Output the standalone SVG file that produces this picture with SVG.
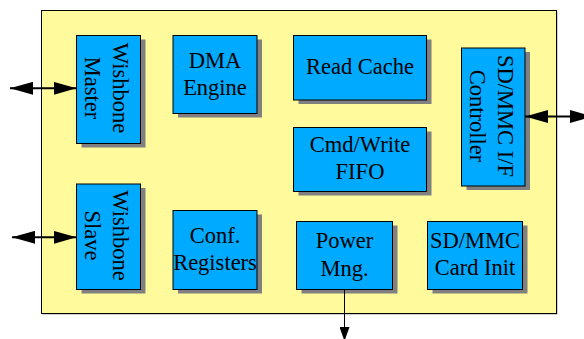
<svg xmlns="http://www.w3.org/2000/svg" width="584" height="339" viewBox="0 0 584 339">
<style>
.outer{fill:#fffb9c;stroke:#000;stroke-width:1}
.box{fill:#00aaff;stroke:#000;stroke-width:1}
.sh{fill:#808080}
.t{font-family:"Liberation Serif","Times New Roman",serif;font-size:22.5px;fill:#000;text-anchor:middle}
.big{stroke:#000;stroke-width:2;fill:none}
.thin{stroke:#000;stroke-width:1;fill:none}
</style>
<defs>
<marker id="ah" viewBox="0 0 23 13" refX="23" refY="6.5" markerWidth="23" markerHeight="13" markerUnits="userSpaceOnUse" orient="auto-start-reverse">
<path d="M0,0 L23,6.5 L0,13 z" fill="#000"/>
</marker>
<marker id="ahs" viewBox="0 0 14 10" refX="14" refY="5" markerWidth="14" markerHeight="10" markerUnits="userSpaceOnUse" orient="auto">
<path d="M0,0 L14,5 L0,10 z" fill="#000"/>
</marker>
</defs>
<rect x="42.5" y="11.5" width="515" height="303" fill="#a0a0a0"/>
<rect class="outer" x="41.5" y="10.5" width="515" height="303"/>
<g id="wishbone-master">
<rect class="sh" x="81.5" y="39.5" width="64" height="108"/>
<rect class="box" x="76.5" y="35.5" width="64" height="108"/>
<text class="t" transform="translate(108.5,88) rotate(90)"><tspan x="0" y="-4.8">Wishbone</tspan><tspan x="0" y="23.5">Master</tspan></text>
</g>
<g id="dma-engine">
<rect class="sh" x="178" y="39.5" width="84" height="78"/>
<rect class="box" x="173" y="35.5" width="84" height="78"/>
<text class="t"><tspan x="215" y="68.3">DMA</tspan><tspan x="215" y="95">Engine</tspan></text>
</g>
<g id="read-cache">
<rect class="sh" x="298.5" y="39.5" width="133" height="64.5"/>
<rect class="box" x="293.5" y="35.5" width="133" height="64.5"/>
<text class="t" x="360" y="74.3">Read Cache</text>
</g>
<g id="cmd-write-fifo">
<rect class="sh" x="298.5" y="131.5" width="133" height="64"/>
<rect class="box" x="293.5" y="127.5" width="133" height="64"/>
<text class="t"><tspan x="360" y="152.3">Cmd/Write</tspan><tspan x="360" y="179.3">FIFO</tspan></text>
</g>
<g id="sdmmc-controller">
<rect class="sh" x="466.5" y="52" width="63.5" height="138"/>
<rect class="box" x="461.5" y="48" width="63.5" height="138"/>
<text class="t" transform="translate(493,116) rotate(90)"><tspan x="0" y="-5.3">SD/MMC I/F</tspan><tspan x="0" y="23">Controller</tspan></text>
</g>
<g id="wishbone-slave">
<rect class="sh" x="81.5" y="188" width="64" height="105.5"/>
<rect class="box" x="76.5" y="184" width="64" height="105.5"/>
<text class="t" transform="translate(108.5,235.5) rotate(90)"><tspan x="0" y="-4.8">Wishbone</tspan><tspan x="0" y="23.5">Slave</tspan></text>
</g>
<g id="conf-registers">
<rect class="sh" x="178" y="214.5" width="84" height="79"/>
<rect class="box" x="173" y="210.5" width="84" height="79"/>
<text class="t"><tspan x="215" y="243.3">Conf.</tspan><tspan x="215" y="270">Registers</tspan></text>
</g>
<g id="power-mng">
<rect class="sh" x="301.5" y="225.5" width="96" height="68"/>
<rect class="box" x="296.5" y="221.5" width="96" height="68"/>
<text class="t"><tspan x="344.5" y="248.3">Power</tspan><tspan x="344.5" y="276">Mng.</tspan></text>
</g>
<g id="card-init">
<rect class="sh" x="432.5" y="225.5" width="95" height="68"/>
<rect class="box" x="427.5" y="221.5" width="95" height="68"/>
<text class="t"><tspan x="475" y="248.3">SD/MMC</tspan><tspan x="475" y="275">Card Init</tspan></text>
</g>
<g id="connectors">
<line class="big" x1="10" y1="88.3" x2="76.5" y2="88.3" marker-start="url(#ah)" marker-end="url(#ah)"/>
<line class="big" x1="12" y1="237.3" x2="76.5" y2="237.3" marker-start="url(#ah)" marker-end="url(#ah)"/>
<line class="big" x1="525" y1="116.5" x2="593" y2="116.5" marker-start="url(#ah)" marker-end="url(#ah)"/>
<line class="thin" x1="344.5" y1="289.5" x2="344.5" y2="341" marker-end="url(#ahs)"/>
</g>
</svg>
